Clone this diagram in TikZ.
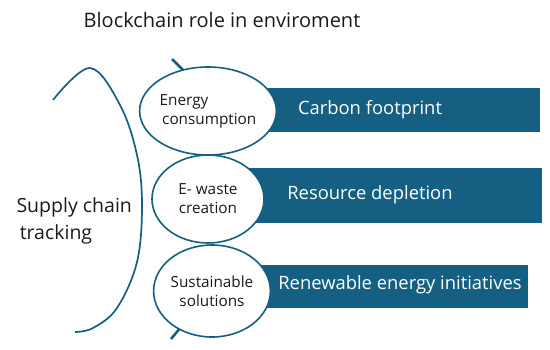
\documentclass[tikz,border=0pt]{standalone}
\usepackage{fontspec}
\setmainfont{Open Sans}
\usetikzlibrary{shapes.geometric, positioning}
\definecolor{TealColor}{HTML}{156082}
\definecolor{TextDark}{HTML}{1A1A1A}

\begin{document}
\begin{tikzpicture}[
        x=1pt, y=-1pt,
        circ/.style={ellipse, draw=TealColor, fill=white, line width=1.6pt, minimum width=112pt, minimum height=88pt, inner sep=0pt, align=center, font=\fontsize{15.3}{19}\selectfont, text=TextDark},
        bar/.style={rectangle, fill=TealColor, inner sep=0pt, minimum width=300pt},
        bartext/.style={font=\fontsize{18.4}{22}\selectfont, text=white},
        tick/.style={TealColor, line width=2.6pt}
      ]
        \useasboundingbox (0,0) rectangle (550,349);

        \node[font=\fontsize{20}{24}\selectfont, text=TextDark] (title) at (222,20) {Blockchain role in enviroment};

        % bars behind the circles
        \node[bar, minimum height=44pt] (carb) at (390,110) {};
        \node[bar, minimum width=302pt, minimum height=55pt] (res) at (391,195.5) {};
        \node[bar, minimum width=288pt, minimum height=43pt] (ren) at (384,286.5) {};
        \node[bartext] (carbt) at (370,110) {Carbon footprint};
        \node[bartext] (rest) at (370,195) {Resource depletion};
        \node[bartext] (rent) at (400,285) {Renewable energy initiatives};

        % small ticks on the top and bottom circles
        \coordinate (ta) at (172,59);
        \coordinate (ta2) at (184,71);
        \coordinate (tb) at (171,339);
        \coordinate (tb2) at (181,327);
        \draw[tick] (ta) -- (ta2);
        \draw[tick] (tb) -- (tb2);

        \node[circ, align=left] (ene) at (208,111) {Energy\\\,consumption};
        \node[circ] (ewa) at (208,199) {E- waste\\creation};
        \node[circ, minimum height=92pt] (sus) at (212,291) {Sustainable\\solutions};

        \draw[TealColor, line width=1.7pt] plot[smooth, tension=0.6] coordinates {(53,100) (90,68) (120,105) (137,155) (142,205) (137,262) (117,308) (93,328) (75,332)};

        \node[anchor=west, align=left, font=\fontsize{19.5}{27}\selectfont, text=TextDark] (sct) at (13,221) {Supply chain\\\,tracking};
      \end{tikzpicture}
\end{document}
